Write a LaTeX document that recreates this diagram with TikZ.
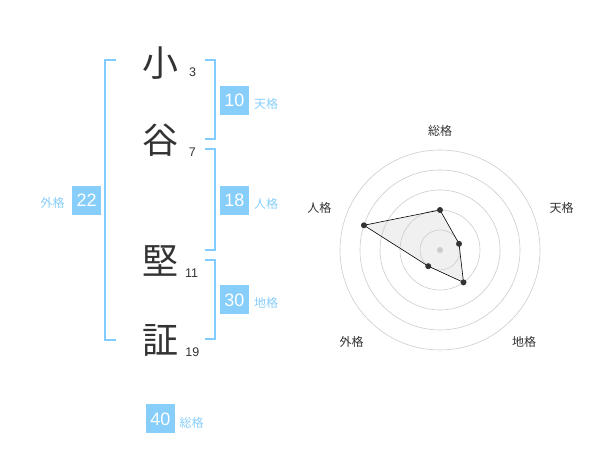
\documentclass[tikz,border=0pt]{standalone}
\usepackage{fontspec}
\setmainfont{Liberation Sans}
\newfontfamily\jpfont{Noto Sans CJK JP}
\usepackage{tikz}
\usetikzlibrary{positioning}

\definecolor{kakublue}{RGB}{135,206,250}
\definecolor{bracketblue}{RGB}{128,204,255}
\definecolor{inkgray}{RGB}{51,51,51}
\definecolor{gridgray}{RGB}{204,204,204}
\definecolor{polyfill}{RGB}{225,225,225}

\tikzset{
  kanji/.style={font=\jpfont\fontsize{36}{36}\selectfont, text=inkgray, inner sep=0pt},
  strokes/.style={font=\fontsize{12.5}{12.5}\selectfont, text=inkgray, inner sep=0pt},
  numbox/.style={fill=kakublue, text=white, minimum size=29pt, inner sep=0pt, font=\fontsize{18}{18}\selectfont},
  kakulabel/.style={font=\jpfont\fontsize{12}{12}\selectfont, text=kakublue, inner sep=0pt},
  radarlabel/.style={font=\jpfont\fontsize{12}{12}\selectfont, text=inkgray, inner sep=0pt},
  bracket/.style={draw=bracketblue, line width=2pt},
}

\begin{document}
\begin{tikzpicture}[x=1pt,y=1pt]
\useasboundingbox (0,0) rectangle (600,470);

% name and stroke counts
\node[kanji] (ko) at (160,406.7) {小};
\node[kanji] (tani) at (160,330) {谷};
\node[kanji] (ken) at (160,209) {堅};
\node[kanji] (sho) at (160,129.3) {証};
\node[strokes] (koN) at (192.7,397.3) {3};
\node[strokes] (taniN) at (192.3,317.7) {7};
\node[strokes] (kenN) at (191.7,196.7) {11};
\node[strokes] (shoN) at (192.3,117.7) {19};

% brackets
\draw[bracket] (116,410) -- (105,410) -- (105,130) -- (116,130);
\draw[bracket] (205,410) -- (214.7,410) -- (214.7,330.7) -- (205,330.7);
\draw[bracket] (205,320.7) -- (214.7,320.7) -- (214.7,220) -- (205,220);
\draw[bracket] (205,210) -- (214.7,210) -- (214.7,130.7) -- (205,130.7);

% kaku boxes
\node[numbox] (tenkaku) at (234.5,369.5) {10};
\node[kakulabel] (tenkakuL) at (266,366) {天格};
\node[numbox] (jinkaku) at (234.5,269.5) {18};
\node[kakulabel] (jinkakuL) at (266,266) {人格};
\node[numbox] (gaikaku) at (86.7,269.5) {22};
\node[kakulabel] (gaikakuL) at (52.7,266.7) {外格};
\node[numbox] (chikaku) at (234.5,170) {30};
\node[kakulabel] (chikakuL) at (266,167) {地格};
\node[numbox] (sokaku) at (160.5,51) {40};
\node[kakulabel] (sokakuL) at (191.7,47.3) {総格};

% radar chart
\begin{scope}[shift={(440,220)}]
\coordinate (sou) at (90:40);
\coordinate (ten) at (18:20);
\coordinate (chi) at (-54:40);
\coordinate (gai) at (234:20);
\coordinate (jin) at (162:80);
\fill[polyfill, fill opacity=0.5] (sou) -- (ten) -- (chi) -- (gai) -- (jin) -- cycle;
\foreach \r in {20,40,...,100}
  \draw[gridgray, line width=0.6pt] (0,0) circle (\r pt);
\fill[gridgray] (0,0) circle (3pt);
\draw[black, line width=0.6pt] (sou) -- (ten) -- (chi) -- (gai) -- (jin) -- cycle;
\foreach \p in {sou,ten,chi,gai,jin}
  \fill[inkgray] (\p) circle (3pt);
\end{scope}

\node[radarlabel] (souL) at (440,339.3) {総格};
\node[radarlabel] (tenL) at (561.7,261.7) {天格};
\node[radarlabel] (jinL) at (319.3,261.7) {人格};
\node[radarlabel] (gaiL) at (351.7,127.7) {外格};
\node[radarlabel] (chiL) at (524,127.7) {地格};
\end{tikzpicture}
\end{document}
